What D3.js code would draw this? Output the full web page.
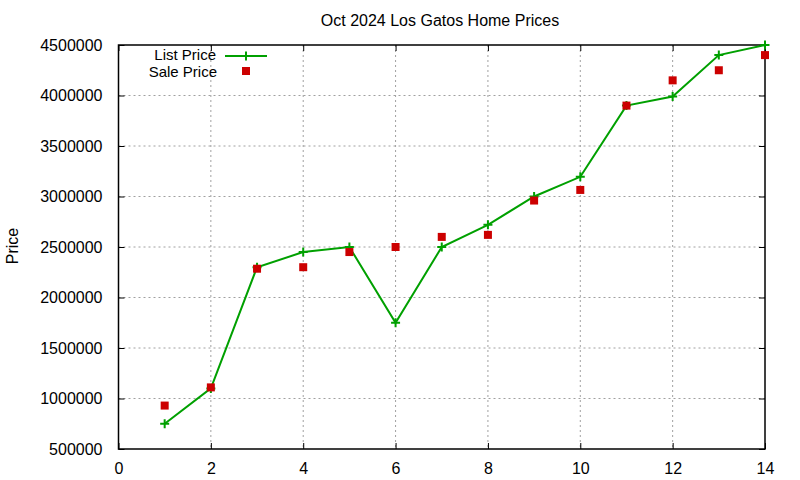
<!DOCTYPE html>
<html>
<head>
<meta charset="utf-8">
<script src="https://cdn.jsdelivr.net/npm/d3@7"></script>
<style>
  body { margin: 0; background: #fff; }
  svg { font-family: "Liberation Sans", Arial, sans-serif; }
</style>
</head>
<body>
<svg id="chart" width="800" height="480"></svg>
<script>
// Months / listing index
const xs = [1, 2, 3, 4, 5, 6, 7, 8, 9, 10, 11, 12, 13, 14];
const listPrice = [750000, 1100000, 2300000, 2450000, 2500000, 1750000, 2500000, 2720000, 3000000, 3195000, 3900000, 3990000, 4400000, 4500000];
const salePrice = [930000, 1110000, 2285000, 2300000, 2450000, 2500000, 2600000, 2620000, 2960000, 3065000, 3900000, 4150000, 4250000, 4400000];
const xTicks = [0, 2, 4, 6, 8, 10, 12, 14];
const yTicks = [500000, 1000000, 1500000, 2000000, 2500000, 3000000, 3500000, 4000000, 4500000];

const svg = d3.select('#chart');
const margin = { top: 45, right: 35, bottom: 31, left: 118.5 };
const width = 800 - margin.left - margin.right;
const height = 480 - margin.top - margin.bottom;

const x = d3.scaleLinear().domain([0, 14]).range([0, width]);
const y = d3.scaleLinear().domain([500000, 4500000]).range([height, 0]);

const g = svg.append('g').attr('transform', `translate(${margin.left},${margin.top})`);

// grid
const gridColor = '#a0a0a0';
g.append('g')
  .selectAll('line')
  .data(xTicks.slice(1, -1))
  .join('line')
  .attr('x1', d => x(d)).attr('x2', d => x(d))
  .attr('y1', 0).attr('y2', height)
  .attr('stroke', gridColor).attr('stroke-dasharray', '2,3');
g.append('g')
  .selectAll('line')
  .data(yTicks.slice(1, -1))
  .join('line')
  .attr('x1', 0).attr('x2', width)
  .attr('y1', d => y(d)).attr('y2', d => y(d))
  .attr('stroke', gridColor).attr('stroke-dasharray', '2,3');

// axes with inward ticks, mirrored
const tickLen = 6;
const styleAxis = sel => {
  sel.select('.domain').remove();
  sel.selectAll('.tick line').attr('stroke', '#000').attr('stroke-width', 1);
  sel.selectAll('.tick text').attr('font-size', 16).attr('fill', '#000')
    .attr('font-family', '"Liberation Sans", Arial, sans-serif');
};

g.append('g')
  .attr('transform', `translate(0,${height})`)
  .call(d3.axisBottom(x).tickValues(xTicks).tickSizeInner(-tickLen).tickSizeOuter(0).tickPadding(14))
  .call(styleAxis);
g.append('g')
  .call(d3.axisTop(x).tickValues(xTicks).tickSizeInner(-tickLen).tickSizeOuter(0).tickFormat(''))
  .call(styleAxis);
g.append('g')
  .call(d3.axisLeft(y).tickValues(yTicks).tickSizeInner(-tickLen).tickSizeOuter(0).tickPadding(16).tickFormat(d3.format('d')))
  .call(styleAxis);
g.append('g')
  .attr('transform', `translate(${width},0)`)
  .call(d3.axisRight(y).tickValues(yTicks).tickSizeInner(-tickLen).tickSizeOuter(0).tickFormat(''))
  .call(styleAxis);

// border
g.append('rect')
  .attr('width', width).attr('height', height)
  .attr('fill', 'none').attr('stroke', '#000').attr('stroke-width', 1.5);

const green = '#00a000';
const red = '#cc0000';
const listData = xs.map((d, i) => [d, listPrice[i]]);
const saleData = xs.map((d, i) => [d, salePrice[i]]);

// list price line
g.append('path')
  .datum(listData)
  .attr('fill', 'none')
  .attr('stroke', green)
  .attr('stroke-width', 2)
  .attr('d', d3.line().x(d => x(d[0])).y(d => y(d[1])));

const plus = (sel, s) => sel.append('path')
  .attr('d', `M${-s},0H${s}M0,${-s}V${s}`)
  .attr('stroke', green).attr('stroke-width', 2);

g.append('g')
  .selectAll('g')
  .data(listData)
  .join('g')
  .attr('transform', d => `translate(${x(d[0])},${y(d[1])})`)
  .each(function () { plus(d3.select(this), 4.5); });

// sale price points
g.append('g')
  .selectAll('rect')
  .data(saleData)
  .join('rect')
  .attr('x', d => x(d[0]) - 4)
  .attr('y', d => y(d[1]) - 4)
  .attr('width', 8).attr('height', 8)
  .attr('fill', red);

// legend
const legend = svg.append('g').attr('font-size', 15);
legend.append('text').attr('x', 216).attr('y', 60).attr('text-anchor', 'end').text('List Price');
legend.append('line').attr('x1', 225).attr('x2', 267).attr('y1', 56).attr('y2', 56)
  .attr('stroke', green).attr('stroke-width', 2);
plus(legend.append('g').attr('transform', 'translate(246,56)'), 4.5);
legend.append('text').attr('x', 217).attr('y', 77).attr('text-anchor', 'end').text('Sale Price');
legend.append('rect').attr('x', 242).attr('y', 67).attr('width', 8).attr('height', 8).attr('fill', red);

// title and y label
svg.append('text')
  .attr('x', 440).attr('y', 26)
  .attr('text-anchor', 'middle').attr('font-size', 16)
  .text('Oct 2024 Los Gatos Home Prices');
svg.append('text')
  .attr('transform', 'translate(18,246) rotate(-90)')
  .attr('text-anchor', 'middle').attr('font-size', 16)
  .text('Price');
</script>
</body>
</html>
